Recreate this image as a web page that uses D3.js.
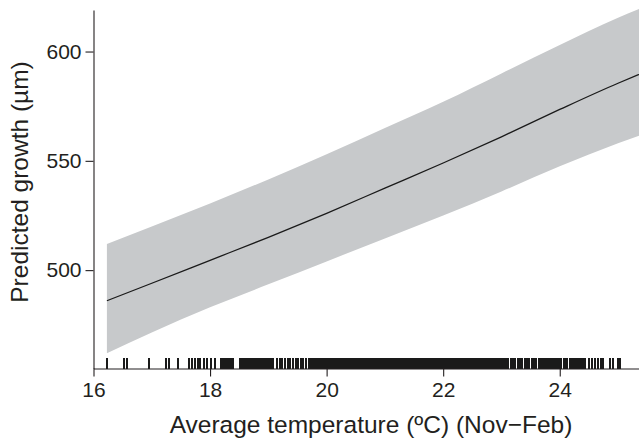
<!DOCTYPE html>
<html>
<head>
<meta charset="utf-8">
<script src="https://cdn.jsdelivr.net/npm/d3@7"></script>
<style>
  body { margin: 0; background: #ffffff; }
  text { font-family: "Liberation Sans", Arial, Helvetica, sans-serif; fill: #231f20; }
</style>
</head>
<body>
<div id="chart"></div>
<script>
// Fitted curve and confidence band
const temps = [16.23, 17, 18, 19, 20, 21, 22, 23, 24, 25, 25.36];
const fit   = [486, 494, 504.5, 515, 526, 537.5, 549, 561, 573.5, 585.5, 589.5];
const upper = [512, 520, 530.5, 541.5, 553, 565, 577, 590, 603, 615.5, 619.5];
const lower = [462, 471.5, 483, 493.5, 504, 514.5, 525, 536, 547.5, 558, 561.5];

// Observed temperatures shown as rug
const rugTemps = [
  16.24, 16.53, 16.58, 16.95, 17.24, 17.30, 17.45, 17.64, 17.69, 17.74, 17.79, 17.83, 17.89, 17.95, 18.02, 18.09,
  18.19, 18.22, 18.25, 18.28, 18.31, 18.34, 18.37, 18.39,
  18.51, 18.54, 18.57, 18.60, 18.63, 18.66, 18.69, 18.72, 18.75, 18.78, 18.81, 18.84, 18.87, 18.90, 18.93, 18.96, 18.99, 19.02, 19.05, 19.08,
  19.15, 19.20, 19.24, 19.29, 19.33, 19.38, 19.42, 19.47, 19.51, 19.56, 19.60, 19.65, 19.69, 19.73, 19.77,
  19.80, 19.83, 19.86, 19.89, 19.92, 19.95, 19.98, 20.01, 20.04, 20.07, 20.10, 20.13, 20.16, 20.19, 20.22, 20.25,
  20.28, 20.31, 20.34, 20.37, 20.40, 20.43, 20.46, 20.49, 20.52, 20.55, 20.58, 20.61, 20.64, 20.67, 20.70, 20.73,
  20.76, 20.79, 20.82, 20.85, 20.88, 20.91, 20.94, 20.97, 21.00, 21.03, 21.06, 21.09, 21.12, 21.15, 21.18, 21.21,
  21.24, 21.27, 21.30, 21.33, 21.36, 21.39, 21.42, 21.45, 21.48, 21.51, 21.54, 21.57, 21.60, 21.63, 21.66, 21.69,
  21.72, 21.75, 21.78, 21.81, 21.84, 21.87, 21.90, 21.93, 21.96, 21.99, 22.02, 22.05, 22.08, 22.11, 22.14, 22.17,
  22.20, 22.23, 22.26, 22.29, 22.32, 22.35, 22.38, 22.41, 22.44, 22.47, 22.50, 22.53, 22.56, 22.59, 22.62, 22.65,
  22.68, 22.71, 22.74, 22.77, 22.80, 22.83, 22.86, 22.89, 22.92, 22.95, 22.98, 23.01, 23.04, 23.07,
  23.12, 23.16, 23.19, 23.24, 23.28, 23.31, 23.36, 23.40, 23.43, 23.47, 23.52, 23.55, 23.60, 23.64, 23.67, 23.71,
  23.74, 23.77, 23.80, 23.84, 23.87, 23.90, 23.94, 23.97, 24.00, 24.03, 24.07, 24.10, 24.13, 24.17, 24.20, 24.23,
  24.27, 24.30, 24.33, 24.37, 24.40,
  24.44, 24.50, 24.55, 24.60, 24.65, 24.70, 24.74,
  24.86, 24.91, 25.00, 25.03
];

const xTicks = [16, 18, 20, 22, 24];
const yTicks = [500, 550, 600];

const width = 639, height = 443;
const svg = d3.select("#chart").append("svg")
    .attr("width", width)
    .attr("height", height);

// Scales
const x = d3.scaleLinear().domain([16, 25.36]).range([93.5, 639]);
const y = d3.scaleLinear().domain([455, 619]).range([368.5, 10]);

const rows = temps.map((t, i) => ({ t, fit: fit[i], lo: lower[i], hi: upper[i] }));

// Confidence band
svg.append("path")
    .datum(rows)
    .attr("fill", "#c7c9cb")
    .attr("d", d3.area().x(d => x(d.t)).y0(d => y(d.lo)).y1(d => y(d.hi)).curve(d3.curveMonotoneX));

// Fitted line
svg.append("path")
    .datum(rows)
    .attr("fill", "none")
    .attr("stroke", "#1a1a1a")
    .attr("stroke-width", 1.3)
    .attr("d", d3.line().x(d => x(d.t)).y(d => y(d.fit)).curve(d3.curveMonotoneX));

// Rug
svg.append("g")
    .attr("shape-rendering", "crispEdges")
    .selectAll("line")
    .data(rugTemps)
    .join("line")
    .attr("x1", d => x(d)).attr("x2", d => x(d))
    .attr("y1", y(455)).attr("y2", y(455) - 11)
    .attr("stroke", "#1a1a1a")
    .attr("stroke-width", 2);

// Axes
const xAxis = svg.append("g")
    .attr("transform", `translate(0,${y(455)})`)
    .call(d3.axisBottom(x).tickValues(xTicks).tickSize(8).tickPadding(6).tickSizeOuter(0));

const yAxis = svg.append("g")
    .attr("transform", `translate(${x(16)},0)`)
    .call(d3.axisLeft(y).tickValues(yTicks).tickSize(8).tickPadding(4).tickSizeOuter(0));

[xAxis, yAxis].forEach(a => {
    a.attr("font-size", null).attr("font-family", null);
    a.selectAll("path, line").attr("stroke", "#231f20").attr("stroke-width", 1.1);
    a.selectAll("text").style("font-size", "21px").attr("fill", "#231f20");
});

// Axis titles
svg.append("text")
    .attr("x", 371)
    .attr("y", 433)
    .attr("text-anchor", "middle")
    .style("font-size", "24.5px")
    .text("Average temperature (ºC) (Nov\u2212Feb)");

svg.append("text")
    .attr("transform", "translate(28,182) rotate(-90)")
    .attr("text-anchor", "middle")
    .style("font-size", "24.5px")
    .text("Predicted growth (µm)");
</script>
</body>
</html>
